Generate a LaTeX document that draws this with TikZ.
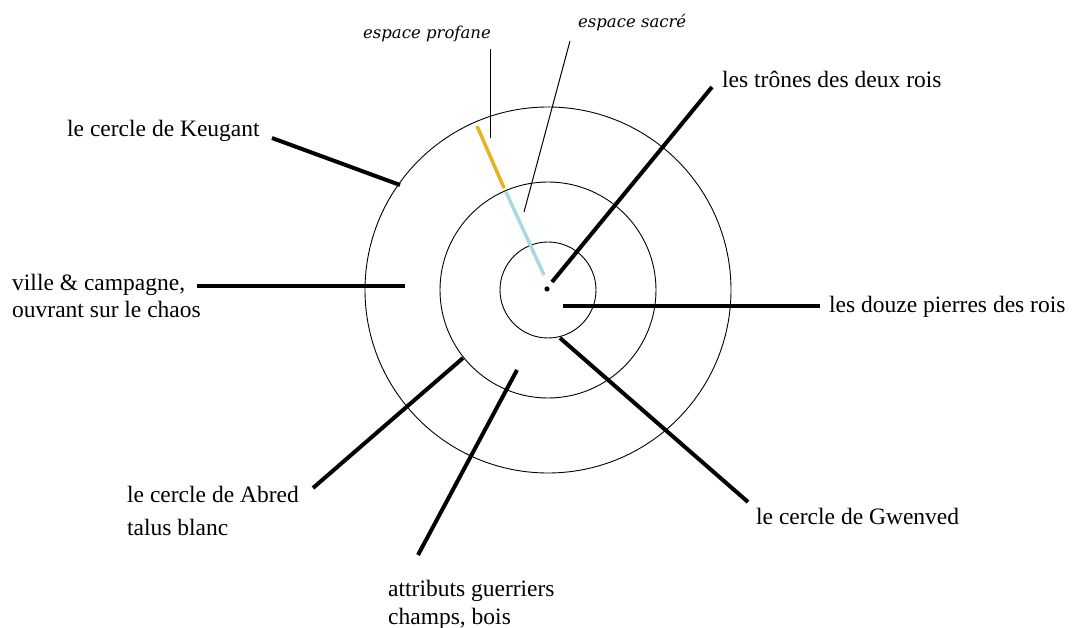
\documentclass[tikz,border=0pt]{standalone}
\usepackage{fontspec}
\setmainfont{Liberation Serif}
\newfontfamily\smallserif{DejaVu Serif}
\begin{document}
\begin{tikzpicture}[x=1pt,y=-1pt]
\tikzset{
  ring/.style={draw=black, line width=0.9pt},
  leader/.style={draw=black, line width=4pt},
  thinlead/.style={draw=black, line width=1pt},
  lbl/.style={inner sep=0pt, anchor=base west, font=\fontsize{23.5}{27}\selectfont},
  smalllbl/.style={inner sep=0pt, font=\smallserif\fontsize{16.5}{19}\selectfont\itshape},
}
\definecolor{profanecol}{HTML}{E6B422}
\definecolor{sacrecol}{HTML}{A8D8E0}
\fill[white] (0,0) rectangle (1072,628);
\useasboundingbox (0,0) rectangle (1072,628);

% circles
\coordinate (C) at (548,290);
\draw[ring] (C) circle[radius=48];
\draw[ring] (C) circle[radius=108];
\draw[ring] (C) circle[radius=183];
\fill (547,289) circle[radius=2.6];

% labels
\node[lbl] (keugant) at (67,137) {le cercle de Keugant};
\node[lbl] (ville1) at (12,291) {ville \& campagne,};
\node[lbl] (ville2) at (12,318) {ouvrant sur le chaos};
\node[lbl] (trones) at (722,88) {les trônes des deux rois};
\node[lbl] (douze) at (829,313) {les douze pierres des rois};
\node[lbl] (abred1) at (127,503) {le cercle de Abred};
\node[lbl] (abred2) at (127,535) {talus blanc};
\node[lbl] (gwenved) at (756,525) {le cercle de Gwenved};
\node[lbl] (attr1) at (388,596) {attributs guerriers};
\node[lbl] (attr2) at (388,624) {champs, bois};
\node[smalllbl, anchor=base east] (profane) at (491,39) {espace profane};
\node[smalllbl, anchor=base west] (sacre) at (578,28) {espace sacré};

% leader end points
\coordinate (kA) at (272,138);  \coordinate (kB) at (400,185);
\coordinate (vA) at (197,286);  \coordinate (vB) at (405,286);
\coordinate (tA) at (552,282);  \coordinate (tB) at (712,87);
\coordinate (dA) at (563,306);  \coordinate (dB) at (820,306);
\coordinate (gA) at (560,338);  \coordinate (gB) at (748,502);
\coordinate (aA) at (463,358);  \coordinate (aB) at (313,488);
\coordinate (atA) at (517,370); \coordinate (atB) at (418,555);
\coordinate (pA) at (490,49);   \coordinate (pB) at (490,138);
\coordinate (sA) at (570,41);   \coordinate (sB) at (524,212);
\coordinate (yA) at (477,126);  \coordinate (yB) at (504,188);
\coordinate (bA) at (506,192);  \coordinate (bB) at (544,275);

\draw[leader] (kA) -- (kB);
\draw[leader] (vA) -- (vB);
\draw[leader] (tA) -- (tB);
\draw[leader] (dA) -- (dB);
\draw[leader] (gA) -- (gB);
\draw[leader] (aA) -- (aB);
\draw[leader] (atA) -- (atB);
\draw[thinlead] (pA) -- (pB);
\draw[thinlead] (sA) -- (sB);
\draw[draw=profanecol, line width=3.5pt] (yA) -- (yB);
\draw[draw=sacrecol, line width=3.5pt] (bA) -- (bB);
\end{tikzpicture}
\end{document}
